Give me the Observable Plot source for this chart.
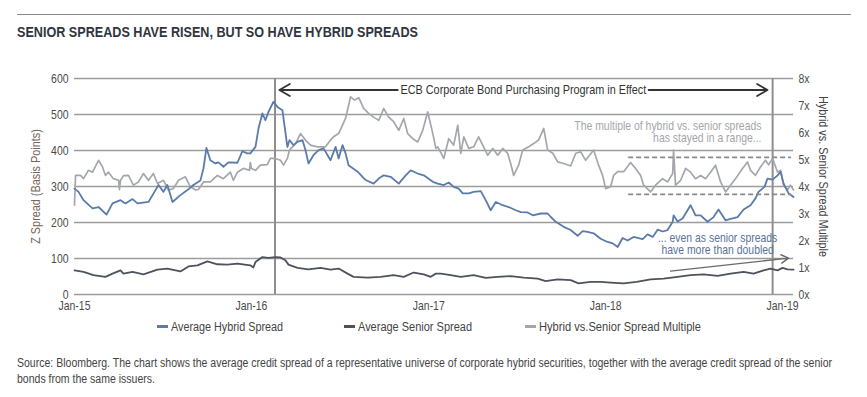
<!DOCTYPE html>
<html><head><meta charset="utf-8">
<script src="https://cdn.jsdelivr.net/npm/d3@7"></script>
<script src="https://cdn.jsdelivr.net/npm/@observablehq/plot@0.6"></script>
<style>
body{margin:0;background:#fff;}
#wrap{position:relative;width:867px;height:397px;font-family:"Liberation Sans",Arial,sans-serif;color:#333;overflow:hidden}
#rule{position:absolute;left:17px;top:14px;width:834px;height:0;border-top:1.5px solid #8a8a8a}
.fit{display:inline-block;transform-origin:0 50%;white-space:nowrap}
#title{position:absolute;left:17px;top:23px;font-size:15px;font-weight:bold;color:#2f3540}
#chart{position:absolute;left:0;top:45px}
.leg{position:absolute;top:319px;font-size:12.5px;color:#444;white-space:nowrap;line-height:16px}
.sw{display:inline-block;width:11px;height:2.5px;vertical-align:middle;margin-right:3px;position:relative;top:-1px}
.cap{position:absolute;left:17px;font-size:12.5px;line-height:16px;color:#444}
</style>
</head><body>
<div id="wrap">
  <div id="rule"></div>
  <div id="title" class="fit" data-w="401">SENIOR SPREADS HAVE RISEN, BUT SO HAVE HYBRID SPREADS</div>
  <div id="chart"></div>
  <div class="leg" style="left:157px"><span class="sw" style="background:#5b7bab"></span><span class="fit" data-w="112">Average Hybrid Spread</span></div>
  <div class="leg" style="left:344px"><span class="sw" style="background:#4d525c"></span><span class="fit" data-w="114">Average Senior Spread</span></div>
  <div class="leg" style="left:525px"><span class="sw" style="background:#a3a7ad"></span><span class="fit" data-w="162">Hybrid vs.Senior Spread Multiple</span></div>
  <div class="cap" style="top:355px"><span class="fit" id="cap1" data-w="815">Source: Bloomberg. The chart shows the average credit spread of a representative universe of corporate hybrid securities, together with the average credit spread of the senior</span></div>
  <div class="cap" style="top:371px"><span class="fit" id="cap2">bonds from the same issuers.</span></div>
</div>
<script>
// ---- data (dates as decimal years) ----
const hybridDates = [2015.000,2015.023,2015.051,2015.102,2015.136,2015.181,2015.215,2015.260,2015.288,2015.328,
2015.356,2015.418,2015.458,2015.475,2015.503,2015.525,2015.554,2015.599,2015.638,2015.672,
2015.712,2015.729,2015.746,2015.768,2015.797,2015.814,2015.842,2015.870,2015.921,2015.949,
2015.977,2015.994,2016.023,2016.040,2016.062,2016.079,2016.096,2016.124,2016.147,2016.175,
2016.181,2016.203,2016.215,2016.237,2016.260,2016.288,2016.305,2016.322,2016.350,2016.379,
2016.407,2016.446,2016.475,2016.492,2016.514,2016.531,2016.548,2016.599,2016.644,2016.689,
2016.718,2016.746,2016.785,2016.831,2016.870,2016.898,2016.938,2016.972,2017.023,2017.051,
2017.085,2017.113,2017.141,2017.169,2017.192,2017.226,2017.254,2017.294,2017.322,2017.350,
2017.379,2017.418,2017.452,2017.492,2017.520,2017.559,2017.588,2017.633,2017.672,2017.689,
2017.718,2017.763,2017.802,2017.842,2017.870,2017.898,2017.932,2017.972,2018.011,2018.040,
2018.068,2018.096,2018.124,2018.158,2018.209,2018.237,2018.266,2018.294,2018.322,2018.350,
2018.379,2018.384,2018.407,2018.435,2018.480,2018.508,2018.537,2018.576,2018.610,2018.638,
2018.678,2018.706,2018.746,2018.780,2018.819,2018.847,2018.864,2018.898,2018.915,2018.944,
2018.972,2018.989,2019.006,2019.034,2019.062];
const hybridValues = [294,285,262,239,243,222,253,262,253,265,
253,257,290,304,285,304,257,276,290,304,
317,350,407,373,364,367,355,367,366,398,
392,392,410,461,503,484,507,535,521,512,
489,410,429,415,424,429,401,364,387,401,
406,373,410,378,415,392,359,341,318,308,
322,331,327,308,331,345,336,331,313,308,
304,311,299,294,281,281,285,287,262,234,
257,248,243,234,229,228,220,225,225,216,
202,188,179,163,176,174,170,155,146,142,
132,157,150,160,154,167,160,180,175,179,
202,220,203,211,248,220,220,202,215,236,
206,210,215,236,248,267,285,299,322,319,
331,341,308,281,271];

const seniorDates = [2015.000,2015.051,2015.107,2015.175,2015.215,2015.260,2015.277,2015.328,2015.390,2015.469,
2015.525,2015.599,2015.644,2015.695,2015.751,2015.808,2015.864,2015.921,2015.994,2016.011,
2016.023,2016.062,2016.096,2016.136,2016.164,2016.192,2016.209,2016.260,2016.322,2016.390,
2016.446,2016.492,2016.542,2016.576,2016.655,2016.729,2016.802,2016.859,2016.915,2016.972,
2017.011,2017.040,2017.068,2017.124,2017.181,2017.254,2017.322,2017.390,2017.463,2017.537,
2017.616,2017.661,2017.729,2017.802,2017.847,2017.915,2017.972,2018.028,2018.102,2018.175,
2018.254,2018.328,2018.407,2018.480,2018.554,2018.633,2018.706,2018.780,2018.836,2018.893,
2018.932,2018.972,2019.000,2019.028,2019.062];
const seniorValues = [67,63,54,49,58,67,58,63,56,69,
72,64,78,81,92,84,83,86,81,75,
90,104,102,104,103,95,83,74,70,74,
69,72,58,49,47,49,54,49,61,56,
49,58,58,54,49,54,46,49,51,47,
44,37,42,40,31,35,35,33,31,35,
42,44,49,54,56,52,58,63,58,67,
72,67,74,70,69];

const multipleDates = [2015.000,2015.006,2015.034,2015.051,2015.062,2015.079,2015.102,2015.136,2015.158,2015.175,
2015.192,2015.220,2015.249,2015.254,2015.260,2015.277,2015.305,2015.333,2015.362,2015.390,
2015.418,2015.446,2015.469,2015.503,2015.531,2015.559,2015.588,2015.627,2015.655,2015.684,
2015.701,2015.729,2015.768,2015.808,2015.842,2015.881,2015.898,2015.921,2015.955,2015.989,
2015.994,2016.000,2016.023,2016.051,2016.090,2016.107,2016.136,2016.164,2016.181,2016.203,
2016.215,2016.249,2016.277,2016.305,2016.333,2016.373,2016.418,2016.446,2016.463,2016.492,
2016.531,2016.559,2016.582,2016.605,2016.633,2016.661,2016.689,2016.718,2016.746,2016.774,
2016.802,2016.831,2016.859,2016.881,2016.910,2016.938,2016.966,2016.994,2017.023,2017.040,
2017.051,2017.085,2017.113,2017.141,2017.164,2017.181,2017.198,2017.226,2017.254,2017.282,
2017.305,2017.333,2017.362,2017.390,2017.418,2017.446,2017.463,2017.480,2017.508,2017.531,
2017.565,2017.593,2017.621,2017.650,2017.672,2017.701,2017.729,2017.763,2017.802,2017.831,
2017.859,2017.887,2017.932,2017.960,2017.983,2018.000,2018.028,2018.045,2018.068,2018.102,
2018.141,2018.169,2018.198,2018.215,2018.254,2018.282,2018.322,2018.350,2018.379,2018.384,
2018.395,2018.424,2018.452,2018.480,2018.508,2018.537,2018.565,2018.593,2018.621,2018.650,
2018.678,2018.706,2018.734,2018.774,2018.802,2018.819,2018.847,2018.876,2018.904,2018.921,
2018.944,2018.972,2018.989,2019.006,2019.028,2019.045,2019.062];
const multipleValues = [3.31,4.41,4.41,4.29,4.41,4.60,4.53,4.97,4.73,4.41,
4.53,4.29,4.23,3.88,4.23,4.40,4.41,4.05,4.17,4.48,
4.23,4.48,4.11,4.23,3.87,3.92,4.23,4.36,3.99,3.87,
3.89,4.17,4.17,4.41,4.29,4.53,4.23,4.53,4.67,4.60,
4.89,4.67,4.60,4.79,4.81,5.04,5.04,4.97,4.79,5.04,
5.35,5.59,5.96,5.72,5.53,5.47,5.47,5.72,5.84,5.96,
6.52,7.32,7.20,7.29,6.89,6.71,6.57,6.45,6.89,6.57,
6.40,6.08,6.52,5.96,5.77,5.65,6.08,6.76,5.96,5.41,
5.47,5.04,5.77,5.53,6.27,5.23,5.84,5.41,5.47,5.84,
5.53,5.16,5.41,5.16,5.41,5.23,4.85,4.41,4.79,5.35,
5.47,5.59,5.72,6.15,5.35,5.23,4.91,4.85,4.76,5.23,
5.28,4.97,5.35,4.79,4.41,3.92,3.99,4.41,4.55,4.55,
4.89,4.67,4.41,4.05,3.80,4.05,4.29,4.17,4.48,5.35,
4.05,4.23,4.67,4.53,4.29,4.41,4.29,4.53,4.79,4.17,
3.80,4.05,4.29,4.67,4.91,4.60,4.41,4.73,4.97,4.80,
5.04,4.53,4.60,4.05,3.87,4.05,3.87];

const spreadTicks = [0,100,200,300,400,500,600];
const multipleTicks = [0,1,2,3,4,5,6,7,8];
const yearTicks = [2015,2016,2017,2018,2019];
const programDates = [2016.133, 2018.944]; // ECB CSPP start / end
const multipleRange = [5.08, 3.71];

// ---- helpers ----
function toDate(y){const yr=Math.floor(y);const a=Date.UTC(yr,0,1),b=Date.UTC(yr+1,0,1);return new Date(a+(y-yr)*(b-a));}
const RATIO = 600/8; // multiple axis: 8x at top of 600bp axis
const zip = (ds, vs, f=v=>v) => ds.map((d,i)=>({date:toDate(d), v:f(vs[i])}));
const hybrid = zip(hybridDates, hybridValues);
const senior = zip(seniorDates, seniorValues);
const multiple = zip(multipleDates, multipleValues, v=>v*RATIO);

const FONT = '"Liberation Sans",Arial,sans-serif';

const chart = Plot.plot({
  width: 867, height: 273,
  marginTop: 33, marginBottom: 24, marginLeft: 74, marginRight: 74,
  style: {fontFamily: FONT, fontSize: "12px", color: "#4a4a4a", background: "transparent", overflow: "visible"},
  x: {type: "utc", domain: [toDate(2015), toDate(2019.062)]},
  y: {domain: [0, 600]},
  marks: [
    Plot.ruleY(spreadTicks, {stroke: "#9c9c9c", strokeWidth: 1.3}),
    Plot.ruleX(programDates.map(toDate), {y1: 0, y2: 600, stroke: "#8e8e8e", strokeWidth: 2}),
    Plot.line(multiple, {x: "date", y: "v", stroke: "#a3a7ad", strokeWidth: 1.7}),
    Plot.line(hybrid, {x: "date", y: "v", stroke: "#5b7bab", strokeWidth: 1.8}),
    Plot.line(senior, {x: "date", y: "v", stroke: "#4d525c", strokeWidth: 1.8}),
    Plot.ruleY(multipleRange.map(m=>m*RATIO), {x1: toDate(2018.130), x2: toDate(2019.051), stroke: "#8a8a8a", strokeWidth: 1.6, strokeDasharray: "5,3"}),
    // ECB programme annotation
    Plot.arrow([0], {x1: toDate(2016.825), x2: toDate(2016.158), y1: 568, y2: 568, stroke: "#333", strokeWidth: 1.8, headLength: 10, inset: 0}),
    Plot.arrow([0], {x1: toDate(2018.243), x2: toDate(2018.915), y1: 568, y2: 568, stroke: "#333", strokeWidth: 1.8, headLength: 10, inset: 0}),
    Plot.text(["ECB Corporate Bond Purchasing Program in Effect"], {x: toDate(2017.535), y: 568, fill: "#333", fontSize: 13}),
    // range note
    Plot.text(["The multiple of hybrid vs. senior spreads"], {x: toDate(2018.881), y: 467, textAnchor: "end", fill: "#a3a6ab", fontSize: 12.5}),
    Plot.text(["has stayed in a range..."], {x: toDate(2018.881), y: 434, textAnchor: "end", fill: "#a3a6ab", fontSize: 12.5}),
    // senior note
    Plot.text(["... even as senior spreads"], {x: toDate(2018.633), y: 156, fill: "#5a7399", fontSize: 12.5}),
    Plot.text(["have more than doubled"], {x: toDate(2018.633), y: 125, fill: "#5a7399", fontSize: 12.5}),
    Plot.arrow([0], {x1: toDate(2018.367), y1: 65, x2: toDate(2019.034), y2: 101, stroke: "#6a6a6a", strokeWidth: 1.4, headLength: 9, inset: 0}),
    // axes
    Plot.axisX(yearTicks.map(toDate), {tickSize: 0, tickPadding: 7, tickFormat: d3.utcFormat("%b-%y"), label: null, fontSize: 12.5}),
    Plot.axisY(spreadTicks, {anchor: "left", tickSize: 0, tickPadding: 6, label: null, fontSize: 12.5}),
    Plot.axisY(multipleTicks.map(m=>m*RATIO), {anchor: "right", tickSize: 0, tickPadding: 5, tickFormat: d => Math.round(d/RATIO) + "x", label: null, fontSize: 12.5}),
    Plot.text(["Z Spread (Basis Points)"], {frameAnchor: "left", textAnchor: "middle", dx: -39, rotate: -90, fill: "#75665a", fontSize: 13}),
    Plot.text(["Hybrid vs. Senior Spread Multiple"], {frameAnchor: "right", textAnchor: "middle", dx: 30, dy: -10, rotate: 90, fill: "#444", fontSize: 13})
  ]
});
document.getElementById("chart").appendChild(chart);

// condense SVG text to mimic the reference's condensed typeface
const texts = [...chart.querySelectorAll("text")];
const ecb = texts.find(t => t.textContent.startsWith("ECB"));
const s = ecb ? 246 / ecb.getComputedTextLength() : 0.82;
texts.forEach(t => {
  const tr = t.getAttribute("transform");
  if (tr) t.setAttribute("transform", tr + ` scale(${s},1)`);
  else {
    const x = +t.getAttribute("x") || 0, y = +t.getAttribute("y") || 0;
    t.removeAttribute("x"); t.removeAttribute("y");
    t.setAttribute("transform", `translate(${x},${y}) scale(${s},1)`);
  }
});
// condense HTML texts to their reference widths
let capScale = s;
document.querySelectorAll(".fit").forEach(el => {
  const target = +el.dataset.w;
  const w = el.getBoundingClientRect().width;
  const k = target ? target / w : null;
  if (el.id === "cap1") capScale = k;
  if (k) el.style.transform = `scaleX(${k})`;
});
document.getElementById("cap2").style.transform = `scaleX(${capScale})`;
</script>
</body></html>
